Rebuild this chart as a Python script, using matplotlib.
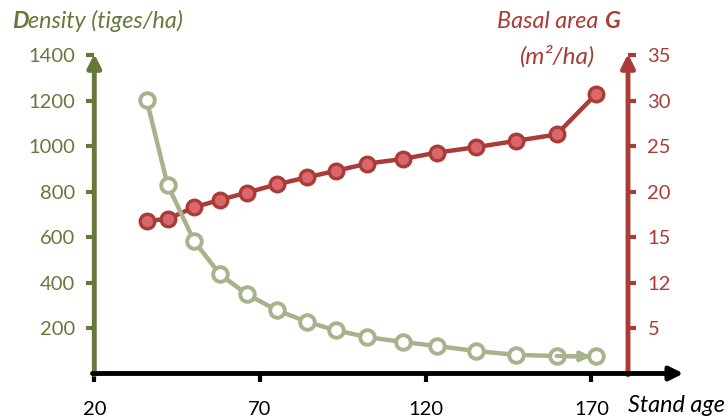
import matplotlib
matplotlib.use('agg')
import matplotlib.pyplot as plt

# stand age (years)
age = [35.8, 42.1, 50.2, 57.9, 66, 75, 84.3, 92.9, 102.4, 113, 123.3, 135.2, 147.3, 159.5, 171.3]
# density (stems/ha)
density = [1204, 831, 581, 437, 349, 279, 227, 190, 160, 139, 121, 99, 82, 77, 75]
# basal area G (m2/ha)
basal = [16.8, 17.0, 18.3, 19.1, 19.9, 20.8, 21.6, 22.3, 23.1, 23.6, 24.3, 24.9, 25.6, 26.3, 30.7]

xticks = [20, 70, 120, 170]
left_ticks = [200, 400, 600, 800, 1000, 1200, 1400]
right_ticks = [5, 10, 15, 20, 25, 30, 35]
right_labels = ['5', '12', '15', '20', '25', '30', '35']

GREEN_AX = '#66783a'
GREEN_LN = '#a7b38c'
RED = '#a93c36'
RED_FACE = '#d9676b'

plt.rcParams['font.family'] = ['Lato', 'DejaVu Sans']

fig = plt.figure(figsize=(7.28, 4.18), dpi=100)
ax = fig.add_axes([94.3 / 728, 44.5 / 418, 583.3 / 728, 318.1 / 418])
ax2 = ax.twinx()

ax.set_xlim(20, 196)
ax.set_ylim(0, 1400)
ax2.set_ylim(0, 35)

for a in (ax, ax2):
    for s in a.spines.values():
        s.set_visible(False)

# red series (right axis)
ax2.plot(age, basal, color=RED, lw=3.2, marker='o', ms=10.5, mfc=RED_FACE,
         mec=RED, mew=2.4, zorder=3)

# green series (left axis) drawn on top
ax.set_zorder(ax2.get_zorder() + 1)
ax.patch.set_visible(False)
ax.plot(age, density, color=GREEN_LN, lw=3.2, marker='o', ms=10.5, mfc='white',
        mec=GREEN_LN, mew=2.8, zorder=3)
ax.annotate('', xy=(age[-1] - 1.5, density[-1]), xytext=(age[-2], density[-2]),
            arrowprops=dict(arrowstyle='-|>', color=GREEN_LN, lw=3,
                            mutation_scale=14, shrinkA=0, shrinkB=0))

# axis arrows
ax.annotate('', xy=(0, 1.005), xytext=(0, -0.004), xycoords='axes fraction',
            arrowprops=dict(arrowstyle='-|>', color=GREEN_AX, lw=3.5,
                            mutation_scale=20, shrinkA=0, shrinkB=0), zorder=5)
rx = (628 - 94.3) / 583.3
ax.annotate('', xy=(rx, 1.005), xytext=(rx, -0.004), xycoords='axes fraction',
            arrowprops=dict(arrowstyle='-|>', color=RED, lw=3.5,
                            mutation_scale=20, shrinkA=0, shrinkB=0), zorder=5)
ax.annotate('', xy=(1.01, 0), xytext=(-0.003, 0), xycoords='axes fraction',
            arrowprops=dict(arrowstyle='-|>', color='black', lw=3.5,
                            mutation_scale=20, shrinkA=0, shrinkB=0), zorder=5)

# ticks
ax.set_xticks(xticks)
ax.set_xticklabels([str(t) for t in xticks])
ax.tick_params(axis='x', colors='black', length=6, width=3, pad=14, labelsize=14.5)
ax.set_yticks(left_ticks)
ax.tick_params(axis='y', colors=GREEN_AX, length=6, width=3, pad=8, labelsize=14.5)
ax2.spines['right'].set_position(('axes', rx))
ax2.set_yticks(right_ticks)
ax2.set_yticklabels(right_labels)
ax2.tick_params(axis='y', colors=RED, length=6, width=3, pad=8, labelsize=14.5)

# titles
t1 = fig.text(12 / 728, 1 - 22 / 418, 'D', color=GREEN_AX, fontsize=16.8,
              fontweight='bold', style='italic', va='center', ha='left')
ax.annotate('ensity (tiges/ha)', xy=(1, 0), xycoords=t1, color=GREEN_AX,
            fontsize=16.8, style='italic', va='bottom', ha='left')

t2 = fig.text(620 / 728, 1 - 22 / 418, 'G', color=RED, fontsize=16.8,
              fontweight='bold', style='italic', va='center', ha='right')
ax.annotate('Basal area ', xy=(0, 0), xycoords=t2, color=RED,
            fontsize=16.8, style='italic', va='bottom', ha='right')
fig.text(558 / 728, 1 - 56 / 418, '(m²/ha)', color=RED, fontsize=17.5,
         style='italic', va='center', ha='center')

fig.text(676 / 728, 1 - 405 / 418, 'Stand age', color='black', fontsize=16.8,
         style='italic', va='center', ha='center')

fig.savefig('out.png', dpi=100)
